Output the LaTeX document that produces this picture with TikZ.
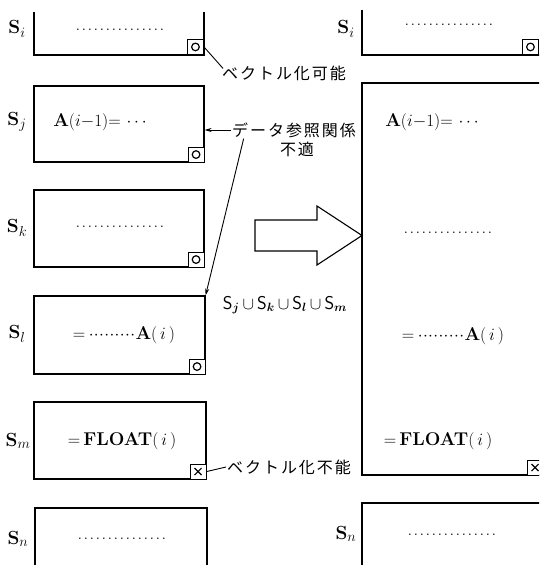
\documentclass[tikz,border=0pt]{standalone}
\usepackage{bm}
\usepackage{fontspec}
\usetikzlibrary{arrows.meta,calc}
\newfontfamily\jp[LetterSpace=12]{Noto Sans CJK JP}
\newcommand\dotrow[2]{\hbox to #1pt{\cleaders\hbox to #2pt{\hss.\hss}\hfill}}
\newcommand\cdotrow[2]{\hbox to #1pt{\cleaders\hbox to #2pt{\hss$\cdot$\hss}\hfill}}
\begin{document}
\begin{tikzpicture}[x=1pt,y=-1pt,
  box/.style={draw, line width=1.2pt, inner sep=0pt},
  mk/.style={draw, line width=1.1pt, minimum width=16pt, minimum height=15pt, inner sep=0pt, anchor=south east, fill=white},
  ring/.style={line width=1.2pt},
  txt/.style={inner sep=0pt, font=\fontsize{18.5}{21}\selectfont},
  lab/.style={inner sep=0pt, font=\fontsize{19}{21}\selectfont},
  jlab/.style={inner sep=1pt, font=\fontsize{16}{18}\selectfont\jp},
  con/.style={line width=0.9pt},
  arr/.style={line width=0.9pt, -{Stealth[length=7pt,width=4pt]}}
]
\clip (0,0) rectangle (539,565);
% ---------- left column ----------
\draw[line width=1.2pt] (34,12) -- (34,55) -- (204,55) -- (204,12);
\coordinate (SiL) at (204,55);
\node[mk] (miL) at (SiL) {};
\draw[ring] (miL.center) circle (3.8pt);
\node[box, minimum width=170pt, minimum height=76pt] (Sj) at (119,124) {};
\node[mk] (mj) at (Sj.south east) {};
\draw[ring] (mj.center) circle (3.8pt);
\node[box, minimum width=170pt, minimum height=77pt] (Sk) at (119,228.5) {};
\node[mk] (mk2) at (Sk.south east) {};
\draw[ring] (mk2.center) circle (3.8pt);
\node[box, minimum width=171pt, minimum height=78pt] (Sl) at (119.5,335) {};
\node[mk] (ml) at (Sl.south east) {};
\draw[ring] (ml.center) circle (3.8pt);
\node[box, minimum width=172pt, minimum height=77pt] (Sm) at (120,440.5) {};
\node[mk] (mm) at (Sm.south east) {};
\draw[line width=1.2pt] ($(mm.center)+(-3.5,-3.5)$) -- ($(mm.center)+(3.5,3.5)$)
                      ($(mm.center)+(-3.5,3.5)$) -- ($(mm.center)+(3.5,-3.5)$);
\draw[line width=1.2pt] (35,570) -- (35,508) -- (207,508) -- (207,570);

\node[lab] (lSi) at (17,29) {\textbf{S}$_{i}$};
\node[lab] (lSj) at (17,122) {\textbf{S}$_{j}$};
\node[lab] (lSk) at (17,228) {\textbf{S}$_{k}$};
\node[lab] (lSl) at (17,334) {\textbf{S}$_{l}$};
\node[lab] (lSm) at (18,441) {\textbf{S}$_{m}$};
\node[lab] (lSn) at (18,539) {\textbf{S}$_{n}$};

\node[txt] (tSi) at (120,30) {\dotrow{90}{6}};
\node[txt] (tSj) at (100,122) {\textbf{A}$(i{-}1){=}\,\cdots$};
\node[txt] (tSk) at (120,227) {\dotrow{90}{6}};
\node[txt] (tSl) at (124,335) {$=$\,\cdotrow{47}{5.2}\textbf{A}$(\,i\,)$};
\node[txt] (tSm) at (122,441) {$=$\,\textbf{FLOAT}$(\,i\,)$};
\node[txt] (tSn) at (122,539) {\dotrow{90}{6}};

% ---------- right column ----------
\draw[line width=1.2pt] (362,10) -- (362,55) -- (541,55);
\coordinate (SiR) at (539,55);
\node[mk] (miR) at (SiR) {};
\draw[ring] (miR.center) circle (3.8pt);
\node[box, minimum width=181pt, minimum height=392pt] (big) at (452.5,279) {};
\node[mk] (mb) at (big.south east) {};
\draw[line width=1.2pt] ($(mb.center)+(-3.5,-3.5)$) -- ($(mb.center)+(3.5,3.5)$)
                      ($(mb.center)+(-3.5,3.5)$) -- ($(mb.center)+(3.5,-3.5)$);
\draw[line width=1.2pt] (362,570) -- (362,503) -- (545,503);

\node[lab] (rSi) at (346,29) {\textbf{S}$_{i}$};
\node[lab] (rSn) at (346,534) {\textbf{S}$_{n}$};

\node[txt] (rtSi) at (449,25) {\dotrow{90}{6}};
\node[txt] (rtA) at (432,122) {\textbf{A}$(i{-}1){=}\,\cdots$};
\node[txt] (rtK) at (448,233) {\dotrow{90}{6}};
\node[txt] (rtL) at (453,336) {$=$\,\cdotrow{47}{5.2}\textbf{A}$(\,i\,)$};
\node[txt] (rtM) at (438,441) {$=$\,\textbf{FLOAT}$(\,i\,)$};
\node[txt] (rtN) at (452,535) {\dotrow{90}{6}};

% ---------- block arrow ----------
\draw[line width=1.1pt, fill=white] (255,220) -- (317,220) -- (317,206) -- (362,235.5)
   -- (317,265) -- (317,251) -- (255,251) -- cycle;

% ---------- labels & connectors ----------
\node[jlab] (kano) at (284,73) {ベクトル化可能};
\draw[con] (miL.east) -- ($(kano.north west)+(2,4)$);

\node[jlab] (ref1) at (294,130) {データ参照関係};
\node[jlab] (ref2) at (297,149) {不適};
\draw[arr] (ref1.west) -- (ref1.west -| Sj.east);
\draw[arr] ($(ref1.south west)!0.1!(ref1.south east)$) -- (Sl.north east);

\node[inner sep=0pt, font=\fontsize{18.5}{20}\selectfont\sffamily] (uni) at (285,305)
  {S$_{\bm{j}}$\,$\cup$\,S$_{\bm{k}}$\,$\cup$\,S$_{\bm{l}}$\,$\cup$\,S$_{\bm{m}}$};

\node[jlab] (funo) at (289,467) {ベクトル化不能};
\draw[con] (mm.east) -- (funo.west);
\end{tikzpicture}
\end{document}
